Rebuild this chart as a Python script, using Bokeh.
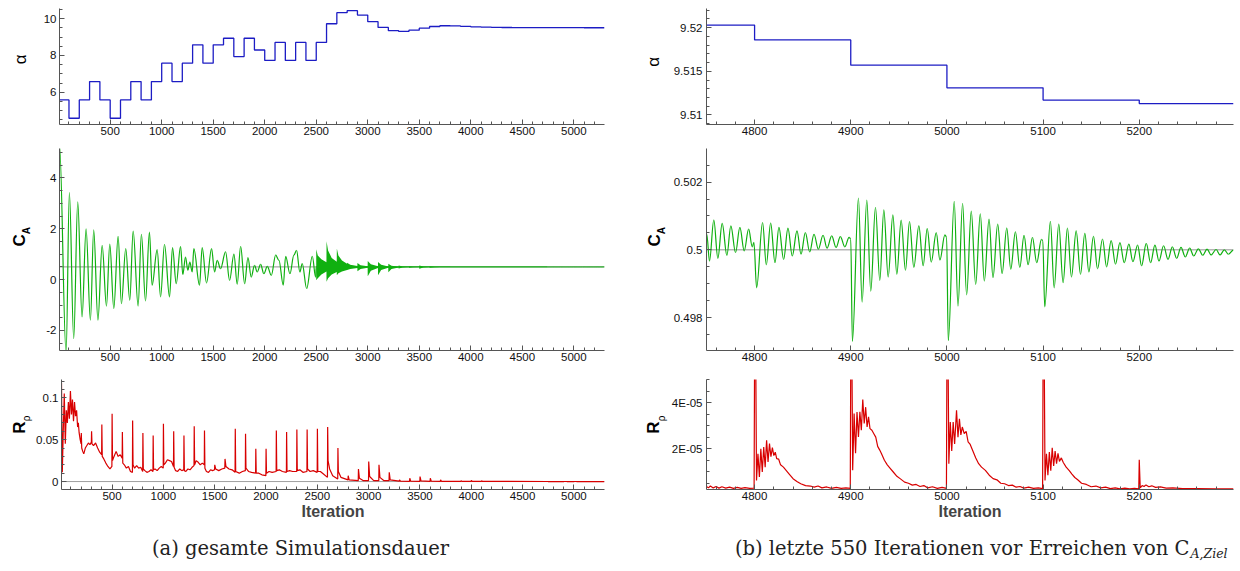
import math
from bokeh.plotting import figure
from bokeh.models import Range1d, SingleIntervalTicker, CustomJSTickFormatter, Label
from bokeh.layouts import row, column
from bokeh.embed import file_html
from bokeh.resources import INLINE

# ---------------- DATA ----------------
# angle of attack, one value per block of 100 iterations (block start)
alpha_block_start = [0, 100, 200, 300, 400, 500, 600, 700, 800, 900, 1000, 1100, 1200, 1300,
                     1400, 1500, 1600, 1700, 1800, 1900, 2000, 2100, 2200, 2300, 2400, 2500,
                     2600, 2700, 2800, 2900, 3000, 3100, 3200, 3300, 3400, 3500, 3600, 3700,
                     3800, 3900, 4000, 4100, 4200, 4300, 4400, 4500, 4600, 4700, 4800, 4900,
                     5000, 5100, 5200]
alpha_value = [5.58, 4.58, 5.58, 6.58, 5.58, 4.58, 5.58, 6.58, 5.58, 6.58, 7.58, 6.58, 7.58, 8.58,
               7.58, 8.58, 8.94, 7.94, 8.94, 8.30, 7.73, 8.71, 7.73, 8.71, 7.73, 8.71,
               9.73, 10.33, 10.44, 10.20, 9.84, 9.53, 9.35, 9.31, 9.38, 9.49, 9.58, 9.62,
               9.61, 9.59, 9.56, 9.54, 9.53, 9.525, 9.523, 9.522, 9.521, 9.5203, 9.5186, 9.5157,
               9.5131, 9.5117, 9.5113]
last_iteration = 5298

# C_A: extrema of the oscillation, first 2500 iterations
ca_x_early = [8, 72, 104, 146, 185, 227, 266, 308, 340, 381,
              422, 464, 496, 535, 577, 609, 651, 690, 723, 771,
              803, 843, 881, 907, 956, 989, 1027, 1076, 1105, 1141,
              1183, 1205, 1231, 1254, 1273, 1296, 1312, 1367, 1393, 1435,
              1484, 1513, 1539, 1571, 1620, 1659, 1701, 1733, 1766, 1805,
              1837, 1869, 1901, 1927, 1960, 1992, 2025, 2064, 2106, 2138,
              2180, 2203, 2245, 2283, 2309, 2341, 2364, 2407, 2462, 2494, 2500, 4745]
ca_y_early = [5.3, -2.9, 3.42, -2.32, 3.06, -1.47, 2.00, -1.60, 1.96, -1.60,
              1.35, -1.04, 1.40, -1.14, 1.70, -0.95, 1.22, -0.81, 1.91, -1.04,
              1.78, -0.84, 1.87, -0.22, 1.18, -0.68, 1.39, -0.68, 1.26, -0.16,
              1.31, 0.20, 0.89, 0.37, 0.69, 0.30, 1.22, -0.22, 1.26, -0.13,
              1.22, 0.30, 0.76, 0.43, 1.09, -0.03, 1.00, -0.18, 1.31, -0.16,
              0.87, 0.10, 0.56, 0.30, 0.60, 0.23, 0.52, 0.17, 0.96, 0.76,
              -0.22, 0.92, 0.23, 0.96, 1.15, 0.30, 0.63, -0.35, 0.92, 0.10, 0.50, 0.50]

# C_A: envelope of the fast oscillation bursts (2500-3800)
ca_band_x = [2500, 2515, 2550, 2599, 2600, 2615, 2650, 2699, 2700, 2715, 2750, 2799,
             2800, 2830, 2899, 2900, 2930, 2999, 3000, 3030, 3099, 3100, 3130, 3199,
             3200, 3230, 3299, 3300, 3340, 3399, 3400, 3440, 3499, 3500, 3540, 3599,
             3600, 3650, 3700, 3800]
ca_band_hi = [1.19, 0.95, 0.80, 0.68, 1.51, 1.15, 0.85, 0.70, 1.22, 0.95, 0.75, 0.62,
              0.66, 0.58, 0.54, 0.65, 0.57, 0.53, 0.73, 0.60, 0.53, 0.69, 0.58, 0.52,
              0.62, 0.55, 0.51, 0.56, 0.52, 0.505, 0.53, 0.51, 0.503, 0.56, 0.52, 0.503,
              0.53, 0.51, 0.505, 0.502]
ca_band_lo = [-0.03, 0.05, 0.20, 0.32, -0.08, 0.05, 0.20, 0.30, 0.17, 0.25, 0.32, 0.38,
              0.38, 0.42, 0.46, 0.33, 0.42, 0.47, 0.13, 0.35, 0.46, 0.17, 0.38, 0.47,
              0.29, 0.42, 0.48, 0.44, 0.48, 0.495, 0.47, 0.49, 0.497, 0.43, 0.48, 0.497,
              0.47, 0.49, 0.495, 0.498]

# C_A: extrema during the last 550 iterations
ca_x_late = [4750.3, 4753.1, 4757.6, 4761.8, 4766.3, 4771.2, 4775.3, 4780.2, 4784.7, 4789.2,
             4793.8, 4797.6, 4799.3, 4802.1, 4808.3, 4812.2, 4816.7, 4821.2, 4825.3, 4830.2,
             4834.7, 4839.2, 4844.1, 4848.3, 4852.8, 4857.3, 4861.8, 4866.3, 4871.2, 4875.3,
             4880.2, 4884.7, 4889.2, 4893.8, 4898.3, 4900.0, 4901.7, 4908.0, 4911.8, 4916.7,
             4920.8, 4925.7, 4930.2, 4934.4, 4938.9, 4943.8, 4947.9, 4952.4, 4956.9, 4961.1,
             4965.6, 4970.8, 4975.3, 4979.5, 4983.7, 4988.9, 4992.7, 4997.9, 4999.7, 5001.4,
             5007.6, 5011.5, 5016.3, 5020.5, 5025.3, 5029.9, 5034.7, 5038.9, 5043.8, 5047.9,
             5052.8, 5057.4, 5062.2, 5066.4, 5071.2, 5075.8, 5080.2, 5084.4, 5088.9, 5093.4,
             5098.3, 5099.7, 5101.7, 5107.6, 5111.5, 5116.3, 5120.8, 5125.3, 5129.5, 5134.4,
             5138.9, 5143.4, 5147.6, 5152.4, 5156.6, 5161.8, 5166.0, 5170.8, 5175.3, 5179.9,
             5184.4, 5189.2, 5193.4, 5198.3, 5202.4, 5207.3, 5211.8, 5216.3, 5220.5, 5225.3,
             5229.9, 5234.4, 5238.9, 5243.4, 5247.9, 5252.4, 5256.6, 5261.5, 5266.0, 5270.5,
             5274.7, 5279.9, 5284.0, 5288.5, 5292.7, 5297.9]
ca_y_late = [0.50046, 0.49967, 0.50088, 0.49975, 0.50078, 0.49984, 0.50071, 0.49992, 0.50066, 0.49997,
             0.50061, 0.50009, 0.50022, 0.49888, 0.50080, 0.49956, 0.50079, 0.49962, 0.50066, 0.49972,
             0.50064, 0.49982, 0.50056, 0.49987, 0.50051, 0.49994, 0.50046, 0.50002, 0.50043, 0.50005,
             0.50041, 0.50007, 0.50039, 0.50009, 0.50037, 0.50032, 0.49730, 0.50153, 0.49846, 0.50147,
             0.49878, 0.50125, 0.49910, 0.50118, 0.49920, 0.50103, 0.49928, 0.50088, 0.49940, 0.50083,
             0.49948, 0.50071, 0.49953, 0.50063, 0.49964, 0.50051, 0.49970, 0.50044, 0.50037, 0.49732,
             0.50143, 0.49834, 0.50137, 0.49867, 0.50114, 0.49898, 0.50106, 0.49908, 0.50091, 0.49918,
             0.50076, 0.49930, 0.50064, 0.49943, 0.50053, 0.49948, 0.50043, 0.49956, 0.50037, 0.49962,
             0.50031, 0.50027, 0.49832, 0.50084, 0.49888, 0.50076, 0.49903, 0.50064, 0.49920, 0.50056,
             0.49928, 0.50049, 0.49935, 0.50040, 0.49944, 0.50032, 0.49950, 0.50027, 0.49958, 0.50021,
             0.49962, 0.50017, 0.49965, 0.50014, 0.49953, 0.50019, 0.49962, 0.50014, 0.49967, 0.50012,
             0.49972, 0.50009, 0.49975, 0.50007, 0.49979, 0.50005, 0.49982, 0.50003, 0.49984, 0.50002,
             0.49985, 0.50001, 0.49985, 0.50000, 0.49987, 0.49999]
ca_target = 0.5

# density residual, whole run
r_x_early = [8, 16, 25, 35, 45, 55, 65, 75, 85, 95, 105, 115, 125, 135, 145, 155, 165, 172, 180, 190,
             199, 201, 205, 215, 225, 240, 255, 270, 285, 299, 301, 305, 320, 340, 360, 380, 399, 401,
             405, 420, 440, 460, 480, 499, 501, 505, 520, 540, 560, 580, 599, 601, 605, 620, 640, 660,
             680, 699, 701, 705, 720, 740, 760, 780, 799, 801, 805, 820, 840, 860, 880, 899, 901, 905,
             920, 940, 960, 980, 999, 1001, 1005, 1020, 1040, 1060, 1080, 1099, 1101, 1105, 1120, 1140,
             1160, 1180, 1199, 1201, 1205, 1220, 1240, 1260, 1280, 1299, 1301, 1305, 1320, 1340, 1360,
             1380, 1399, 1401, 1405, 1420, 1440, 1460, 1480, 1499, 1501, 1510, 1540, 1570, 1599, 1601,
             1610, 1640, 1670, 1699, 1701, 1705, 1740, 1770, 1799, 1801, 1805, 1830, 1860, 1899, 1901,
             1905, 1930, 1960, 1999, 2001, 2005, 2030, 2060, 2099, 2101, 2105, 2130, 2160, 2199, 2201,
             2205, 2230, 2260, 2299, 2301, 2305, 2330, 2360, 2399, 2401, 2405, 2430, 2460, 2499, 2501,
             2505, 2530, 2560, 2599, 2601, 2605, 2620, 2650, 2699, 2701, 2705, 2730, 2799, 2801, 2810,
             2899, 2901, 2910, 2950, 2999, 3001, 3010, 3050, 3099, 3101, 3110, 3150, 3199, 3201, 3210,
             3299, 3301, 3310, 3399, 3401, 3410, 3499, 3501, 3510, 3599, 3601, 3610, 3699, 3701, 3710,
             3899, 3901, 3910, 3999, 4001, 4010, 4099, 4101, 4110, 4745]
r_v_early = [0.118, 0.011, 0.060, 0.105, 0.045, 0.085, 0.070, 0.095, 0.075, 0.108, 0.080, 0.098, 0.072,
             0.095, 0.078, 0.085, 0.065, 0.070, 0.058, 0.050,
             0.045, 0.058, 0.040, 0.036, 0.033, 0.040, 0.043, 0.046, 0.044, 0.047, 0.060, 0.045, 0.043,
             0.046, 0.040, 0.035, 0.032, 0.068,
             0.030, 0.027, 0.022, 0.018, 0.015, 0.018, 0.081, 0.025, 0.030, 0.036, 0.030, 0.032, 0.028,
             0.059, 0.022, 0.020, 0.016, 0.018,
             0.012, 0.011, 0.073, 0.020, 0.016, 0.019, 0.016, 0.017, 0.012, 0.058, 0.015, 0.013, 0.011,
             0.012, 0.014, 0.012, 0.055, 0.014,
             0.015, 0.013, 0.016, 0.018, 0.016, 0.069, 0.020, 0.022, 0.026, 0.025, 0.024, 0.018, 0.060,
             0.017, 0.013, 0.012,
             0.015, 0.013, 0.014, 0.055, 0.013, 0.012, 0.015, 0.014, 0.017, 0.019, 0.066, 0.020, 0.025,
             0.023, 0.020,
             0.022, 0.020, 0.061, 0.016, 0.012, 0.011, 0.014, 0.013, 0.014, 0.020, 0.015, 0.013, 0.015,
             0.016, 0.027,
             0.018, 0.015, 0.014, 0.011, 0.063, 0.012, 0.010, 0.012, 0.013, 0.057, 0.016, 0.012, 0.011,
             0.010, 0.039,
             0.010, 0.010, 0.008, 0.007, 0.039, 0.010, 0.012, 0.011, 0.012, 0.061, 0.013, 0.014, 0.012,
             0.011, 0.059,
             0.012, 0.013, 0.012, 0.012, 0.062, 0.013, 0.014, 0.011, 0.012, 0.062, 0.015, 0.012, 0.013,
             0.011, 0.063,
             0.012, 0.012, 0.009, 0.005, 0.065, 0.025, 0.015, 0.007, 0.003, 0.040, 0.012, 0.005, 0.002,
             0.007, 0.002,
             0.001, 0.015, 0.004, 0.001, 0.001, 0.024, 0.006, 0.001, 0.001, 0.020, 0.005, 0.001, 0.001,
             0.011, 0.002,
             0.0005, 0.002, 0.0005, 0.0003, 0.004, 0.0005, 0.0003, 0.006, 0.0008, 0.0003, 0.004, 0.0005,
             0.0002, 0.002, 0.0003,
             0.0002, 0.001, 0.0002, 0.0001, 0.0013, 0.0002, 0.0001, 0.001, 0.0001, 0.00005]

# density residual, last 550 iterations (values in units of 1E-06)
r_x_late = [4750, 4752, 4754, 4757, 4760, 4763, 4766, 4770, 4774, 4778, 4782, 4786, 4790, 4795, 4799.5,
            4800, 4801.2, 4802, 4803.5, 4805, 4806.5, 4808, 4809.5, 4811, 4812.5, 4814, 4815.5, 4817,
            4818.5, 4820, 4821.5, 4823, 4825, 4827, 4830, 4833, 4836, 4840, 4844, 4848, 4853, 4858,
            4862, 4866, 4870, 4875, 4880, 4885, 4890, 4895, 4899.5,
            4900, 4901.2, 4902, 4903.5, 4905, 4906.5, 4908, 4909.5, 4911, 4912.5, 4914, 4915.5, 4917,
            4918.5, 4920, 4922, 4924, 4926, 4928, 4930, 4932, 4935, 4938, 4941, 4944, 4948, 4952,
            4956, 4960, 4964, 4968, 4972, 4976, 4980, 4985, 4990, 4995, 4999.5,
            5000, 5001.2, 5002, 5003.5, 5005, 5006.5, 5008, 5010, 5011.5, 5013, 5014.5, 5016, 5018,
            5020, 5022, 5024, 5027, 5030, 5033, 5036, 5040, 5044, 5048, 5052, 5056, 5060, 5064, 5068,
            5072, 5076, 5080, 5085, 5090, 5095, 5099.5,
            5100, 5101.2, 5102, 5103.5, 5105, 5106.5, 5108, 5109.5, 5111, 5112.5, 5114, 5115.5, 5117,
            5119, 5121, 5124, 5127, 5130, 5133, 5136, 5140, 5145, 5150, 5155, 5160, 5165, 5170, 5175,
            5180, 5185, 5190, 5195, 5199.5,
            5200, 5201, 5203, 5205, 5207, 5210, 5213, 5217, 5222, 5228, 5235, 5245, 5260, 5280, 5298]
r_micro_late = [3.6, 3.0, 3.8, 3.0, 3.6, 2.9, 3.5, 2.9, 3.3, 2.8, 3.2, 2.8, 3.1, 2.8, 2.9,
                60, 60, 6.2, 17.8, 7.7, 20.0, 9.9, 20.7, 12.0, 23.6, 14.2, 22.2, 16.5,
                20.5, 17.0, 18.5, 15.7, 15.5, 13.0, 12.0, 10.5, 9.0, 7.0, 5.8, 4.8, 4.0, 3.8,
                3.3, 3.8, 3.0, 3.4, 2.8, 3.2, 2.8, 3.0, 2.8,
                60, 60, 10.6, 35.2, 18.0, 35.9, 25.1, 36.0, 28.0, 41.3, 30.9, 38.0, 29.4,
                33.8, 28.7, 28.0, 26.5, 25.0, 21.0, 19.5, 17.8, 15.0, 13.0, 11.5, 10.0, 8.0, 6.8,
                5.5, 5.0, 4.2, 4.5, 3.6, 4.0, 3.0, 3.5, 2.8, 3.2, 2.8,
                60, 60, 13.5, 31.6, 19.0, 31.6, 22.0, 36.7, 25.0, 33.0, 26.0, 29.4, 26.5,
                27.5, 23.0, 22.0, 19.0, 16.0, 13.5, 12.0, 10.6, 8.5, 7.0, 6.5, 5.0, 4.8, 4.0, 4.2,
                3.3, 3.6, 2.9, 3.3, 2.8, 3.0, 2.7,
                60, 60, 6.2, 17.8, 8.5, 18.5, 10.5, 20.4, 12.5, 19.0, 13.5, 18.0, 14.5,
                16.0, 14.0, 12.0, 10.6, 9.0, 7.5, 6.5, 5.0, 4.5, 3.5, 3.8, 3.0, 3.3, 2.7, 3.0,
                2.6, 2.9, 2.6, 2.8, 2.6,
                15.2, 3.0, 4.0, 3.6, 4.3, 3.5, 3.9, 3.2, 3.4, 2.9, 3.0, 2.7, 2.7, 2.6, 2.6]

caption_a = "(a) gesamte Simulationsdauer"
caption_b = "(b) letzte 550 Iterationen vor Erreichen von C"
caption_b_sub = "A,Ziel"

assert len(alpha_block_start) == len(alpha_value)
assert len(ca_x_early) == len(ca_y_early)
assert len(ca_band_x) == len(ca_band_hi) == len(ca_band_lo)
assert len(ca_x_late) == len(ca_y_late)
assert len(r_x_early) == len(r_v_early)
assert len(r_x_late) == len(r_micro_late)

# ---------------- SERIES ----------------
alpha_x = alpha_block_start + [last_iteration]
alpha_y = alpha_value + [alpha_value[-1]]
ca_x = ca_x_early + ca_x_late
ca_y = ca_y_early + ca_y_late
r_x = r_x_early + r_x_late
r_y = r_v_early + [v * 1e-6 for v in r_micro_late]

BLUE = "#1c1cc4"
GREEN = "#10b010"
RED = "#d80000"
AX = "#555555"
FONT = "Liberation Sans"

fmt_plain = CustomJSTickFormatter(code="return String(Number(tick.toPrecision(6)));")
fmt_exp = CustomJSTickFormatter(code="""
if (tick == 0) return "0";
const e = Math.floor(Math.log10(Math.abs(tick)) + 1e-9);
const m = Math.round(tick / Math.pow(10, e));
const a = Math.abs(e);
return m + "E" + (e < 0 ? "-" : "+") + (a < 10 ? "0" : "") + a;
""")


def make_fig(width, height, xr, yr, bl, br, bt, bb, xint, xminor, yint, yminor, yfmt, ystand):
    p = figure(width=width, height=height, x_range=Range1d(*xr), y_range=Range1d(*yr),
               output_backend="svg", toolbar_location=None,
               min_border_left=bl, min_border_right=br, min_border_top=bt, min_border_bottom=bb)
    p.outline_line_color = None
    p.grid.visible = False
    p.xaxis.ticker = SingleIntervalTicker(interval=xint, num_minor_ticks=xminor)
    p.yaxis.ticker = SingleIntervalTicker(interval=yint, num_minor_ticks=yminor)
    p.yaxis.formatter = yfmt
    for ax in (p.xaxis[0], p.yaxis[0]):
        ax.axis_line_color = AX
        ax.major_tick_line_color = AX
        ax.minor_tick_line_color = AX
        ax.major_tick_in = 5
        ax.major_tick_out = 0
        ax.minor_tick_in = 3
        ax.minor_tick_out = 0
        ax.major_label_text_font = FONT
        ax.major_label_text_font_size = "11.5px"
        ax.major_label_text_color = "#111111"
    p.xaxis.major_label_standoff = 2
    p.yaxis.major_label_standoff = ystand
    return p


def make_strip(x0, x1, y0, y1):
    """empty panel whose data coordinates equal page pixels; holds axis titles / captions"""
    s = figure(width=x1 - x0, height=y1 - y0, x_range=Range1d(x0, x1), y_range=Range1d(y1, y0),
               output_backend="svg", toolbar_location=None, x_axis_location=None,
               y_axis_location=None, min_border=0)
    s.outline_line_color = None
    s.grid.visible = False
    return s


def add_title(s, px, py, text, size, style="normal"):
    s.add_layout(Label(x=px, y=py, text=text, angle=math.pi / 2, text_font=FONT,
                       text_font_size=size, text_font_style=style, text_color="black",
                       text_align="center", text_baseline="middle"))


def bezier_wave(p, xs, ys, color):
    """smooth curve through the listed extrema (horizontal tangent at each extremum)"""
    x0, y0, x1, y1 = xs[:-1], ys[:-1], xs[1:], ys[1:]
    cx0 = [a + 0.36 * (b - a) for a, b in zip(x0, x1)]
    cx1 = [b - 0.36 * (b - a) for a, b in zip(x0, x1)]
    p.bezier(x0=x0, y0=y0, x1=x1, y1=y1, cx0=cx0, cy0=y0, cx1=cx1, cy1=y1,
             line_color=color, line_width=1.2)


XL = (8, 5298)
XR = (4750, 5298)
Y_AL, Y_CL, Y_RL = (4.24, 10.56), (-2.79, 5.16), (-0.0095, 0.1218)
Y_AR, Y_CR, Y_RR = (9.5089, 9.5222), (0.49703, 0.50299), (2.3e-6, 5.0e-5)

# page layout: left strip 0..33, left plot 33..640 (frame 59..604),
# right strip 640..668, right plot 668..1240 (frame 706..1233)
aL = make_fig(607, 148, XL, Y_AL, 26, 36, 8, 24, 500, 5, 2, 4, fmt_plain, 3)
cL = make_fig(607, 224, XL, Y_CL, 26, 36, 0, 22, 500, 5, 2, 4, fmt_plain, 3)
rL = make_fig(607, 158, XL, Y_RL, 26, 36, 6, 41, 500, 5, 0.05, 5, fmt_plain, 3)
aR = make_fig(572, 148, XR, Y_AR, 38, 7, 8, 24, 100, 5, 0.005, 5, fmt_plain, 4)
cR = make_fig(572, 224, XR, Y_CR, 38, 7, 0, 22, 100, 5, 0.002, 4, fmt_plain, 4)
rR = make_fig(572, 158, XR, Y_RR, 38, 7, 7, 41, 100, 5, 2e-5, 4, fmt_exp, 4)

for p in (aL, aR):
    p.step(alpha_x, alpha_y, mode="after", line_color=BLUE, line_width=1.3)

for p, xr in ((cL, XL), (cR, XR)):
    p.line(list(xr), [ca_target, ca_target], line_color="#777777", line_width=0.8)
    bezier_wave(p, ca_x, ca_y, GREEN)
cL.varea(x=ca_band_x, y1=ca_band_lo, y2=ca_band_hi, fill_color=GREEN)

rL.line(list(XL), [0, 0], line_color="#888888", line_width=0.8)
for p in (rL, rR):
    p.line(r_x, r_y, line_color=RED, line_width=1.2)

for p in (rL, rR):
    p.xaxis.axis_label = "Iteration"
    p.xaxis.axis_label_text_font = FONT
    p.xaxis.axis_label_text_font_style = "bold"
    p.xaxis.axis_label_text_font_size = "16px"
    p.xaxis.axis_label_standoff = 0

# axis title strips
sAL, sCL, sRL = make_strip(0, 33, 0, 148), make_strip(0, 33, 148, 372), make_strip(0, 33, 372, 530)
sAR, sCR, sRR = (make_strip(640, 668, 0, 148), make_strip(640, 668, 148, 372),
                 make_strip(640, 668, 372, 530))

add_title(sAL, 20, 65, "α", "17px")
add_title(sCL, 19, 250, "C", "17px", "bold")
add_title(sCL, 25.5, 239, "A", "10px", "bold")
add_title(sRL, 18.5, 441, "R", "17px", "bold")
add_title(sRL, 26, 428, "ρ", "10px")

add_title(sAR, 653, 68, "α", "17px")
add_title(sCR, 654, 250, "C", "17px", "bold")
add_title(sCR, 660.5, 239, "A", "10px", "bold")
add_title(sRR, 653, 441, "R", "17px", "bold")
add_title(sRR, 661, 428, "ρ", "10px")

# captions (page y 530..568)
cap = make_strip(0, 1240, 530, 568)
CAPFONT = "DejaVu Serif"
cap.add_layout(Label(x=300, y=548, text=caption_a, text_font=CAPFONT,
                     text_font_size="19.5px", text_align="center", text_baseline="middle",
                     text_color="#222222"))
cap.add_layout(Label(x=1189, y=548, text=caption_b, text_font=CAPFONT, text_font_size="19.5px",
                     text_align="right", text_baseline="middle", text_color="#222222"))
cap.add_layout(Label(x=1190, y=553, text=caption_b_sub, text_font=CAPFONT, text_font_size="12.5px",
                     text_font_style="italic", text_align="left", text_baseline="middle",
                     text_color="#222222"))

layout = column(row(sAL, aL, sAR, aR), row(sCL, cL, sCR, cR), row(sRL, rL, sRR, rR), cap)
open("out.html", "w").write(file_html(layout, INLINE))
